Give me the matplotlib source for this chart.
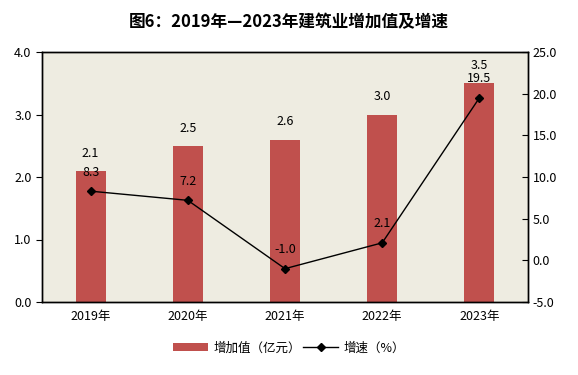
import matplotlib.pyplot as plt
import numpy as np

plt.rcParams['font.family'] = ['Noto Sans CJK SC', 'DejaVu Sans']

# dữ liệu
years = ['2019年', '2020年', '2021年', '2022年', '2023年']
value_added = [2.1, 2.5, 2.6, 3.0, 3.5]
growth = [8.3, 7.2, -1.0, 2.1, 19.5]

bar_color = '#C0504D'
bg_color = '#EEECE1'

fig = plt.figure(figsize=(5.78, 3.75), dpi=100)
ax = fig.add_axes([42 / 578, 73 / 375, 486 / 578, 250 / 375])
ax.set_facecolor(bg_color)
x = np.arange(len(years))

bars = ax.bar(x, value_added, width=0.31, color=bar_color, label='增加值（亿元）', zorder=2)
for xi, v in zip(x, value_added):
    ax.annotate(f'{v:.1f}', (xi, v), xytext=(0, 8), textcoords='offset points',
                ha='center', va='bottom', fontsize=9)

ax.set_xlim(-0.5, len(years) - 0.5)
ax.set_ylim(0, 4)
ax.set_yticks(np.arange(0, 4.01, 1.0))
ax.set_yticklabels([f'{t:.1f}' for t in np.arange(0, 4.01, 1.0)], fontsize=9)
ax.set_xticks(x)
ax.set_xticklabels(years, fontsize=9)
ax.tick_params(axis='x', length=0, pad=6)
ax.tick_params(axis='y', direction='out', length=4)

ax2 = ax.twinx()
line, = ax2.plot(x, growth, color='black', marker='D', markersize=4, linewidth=1.0,
                 label='增速（%）', zorder=3)
for xi, v in zip(x, growth):
    ax2.annotate(f'{v:.1f}', (xi, v), xytext=(0, 9), textcoords='offset points',
                 ha='center', va='bottom', fontsize=9)
ax2.set_ylim(-5, 25)
ax2.set_yticks(np.arange(-5, 25.01, 5))
ax2.set_yticklabels([f'{t:.1f}' for t in np.arange(-5, 25.01, 5)], fontsize=9)
ax2.tick_params(axis='y', direction='in', length=4)

for a in (ax, ax2):
    for s in a.spines.values():
        s.set_linewidth(1.0)

fig.suptitle('图6：2019年—2023年建筑业增加值及增速', fontsize=12, fontweight='bold', y=0.965)

fig.legend([bars, line], ['增加值（亿元）', '增速（%）'], loc='lower center',
           bbox_to_anchor=(0.5, 0.025), ncol=2, frameon=False, fontsize=9,
           handlelength=2.8, columnspacing=0.2, handletextpad=0.4)

fig.savefig('out.png', dpi=100)
